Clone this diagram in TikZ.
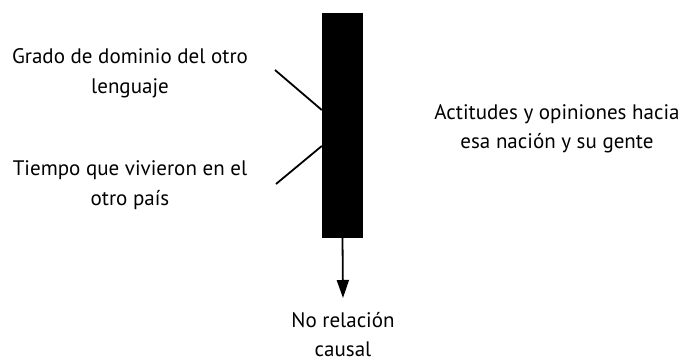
\documentclass[tikz,border=0pt]{standalone}
\usepackage{fontspec}
\setmainfont{PT Sans}
\usetikzlibrary{arrows.meta}
\begin{document}
\begin{tikzpicture}[x=1pt,y=-1pt,
  lbl/.style={align=center,inner sep=0pt,font=\fontsize{21}{29.5}\selectfont},
  conn/.style={line width=1.8pt},
  barbox/.style={fill=black,draw=none,minimum width=41pt,minimum height=225pt,inner sep=0pt}]
\useasboundingbox (0,0) rectangle (683,362);
\node[barbox] (bar) at (342.5,125.5) {};
\node[lbl] (grado) at (130,73) {Grado de dominio del otro\\lenguaje};
\node[lbl] (tiempo) at (130,185) {Tiempo que vivieron en el\\otro país};
\node[lbl] (actitudes) at (557,129) {Actitudes y opiniones hacia\\esa nación y su gente};
\node[lbl] (norel) at (343,334.5) {No relación\\causal};
\coordinate (g1) at (275,70);
\coordinate (t1) at (276,184);
\coordinate (gb) at (bar.west |- 0,110);
\coordinate (tb) at (bar.west |- 0,146);
\coordinate (arrowend) at (343,298);
\draw[conn] (g1) -- (gb);
\draw[conn] (t1) -- (tb);
\draw[conn,-{Triangle[length=18pt,width=12pt]}] (bar.south) -- (arrowend);
\end{tikzpicture}
\end{document}
